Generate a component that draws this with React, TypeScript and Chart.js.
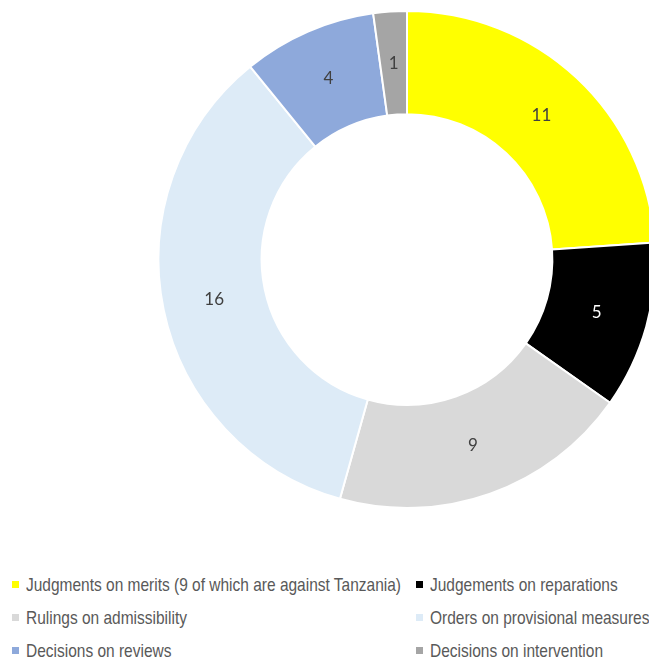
import React, { useEffect, useRef } from "react";
import { Chart, registerables } from "chart.js";

Chart.register(...registerables);

const categories = [
  "Judgments on merits (9 of which are against Tanzania)",
  "Judgements on reparations",
  "Rulings on admissibility",
  "Orders on provisional measures",
  "Decisions on reviews",
  "Decisions on intervention",
];
const values = [11, 5, 9, 16, 4, 1];
const colors = ["#FFFF00", "#000000", "#D9D9D9", "#DDEBF7", "#8EA9DB", "#A5A5A5"];
const labelColors = ["#404040", "#FFFFFF", "#404040", "#404040", "#404040", "#404040"];

const valueLabels = {
  id: "valueLabels",
  afterDatasetsDraw(chart: any) {
    const ctx = chart.ctx;
    const meta = chart.getDatasetMeta(0);
    ctx.save();
    ctx.font = "17px Lato, 'Open Sans', sans-serif";
    ctx.textAlign = "center";
    ctx.textBaseline = "middle";
    meta.data.forEach((arc: any, i: number) => {
      const p = arc.tooltipPosition();
      ctx.fillStyle = labelColors[i];
      ctx.fillText(String(values[i]), p.x, p.y);
    });
    ctx.restore();
  },
};

export default function App() {
  const ref = useRef<HTMLCanvasElement | null>(null);
  useEffect(() => {
    if (!ref.current) return;
    const chart = new Chart(ref.current, {
      type: "doughnut",
      data: {
        labels: categories,
        datasets: [
          {
            data: values,
            backgroundColor: colors,
            borderColor: "#FFFFFF",
            borderWidth: 2,
          },
        ],
      },
      options: {
        responsive: false,
        animation: false,
        radius: 248.5,
        cutout: "58.5%",
        layout: { padding: 0 },
        plugins: {
          legend: { display: false },
          tooltip: { enabled: false },
        },
      } as any,
      plugins: [valueLabels],
    });
    return () => chart.destroy();
  }, []);

  const legendFont = "'Liberation Sans', Arial, sans-serif";

  return (
    <div
      style={{
        position: "fixed",
        left: 0,
        top: 0,
        width: 649,
        height: 661,
        overflow: "hidden",
        background: "#FFFFFF",
      }}
    >
      <canvas
        ref={ref}
        width={814}
        height={519}
        style={{ position: "absolute", left: 0, top: 0, width: 814, height: 519 }}
      />
      {categories.map((c, i) => {
        const col = i % 2;
        const row = Math.floor(i / 2);
        const left = col === 0 ? 12 : 416;
        const center = 584.5 + row * 33;
        return (
          <div
            key={c}
            style={{
              position: "absolute",
              left,
              top: center - 12,
              height: 24,
              display: "flex",
              alignItems: "center",
              whiteSpace: "nowrap",
              fontFamily: legendFont,
              fontSize: 19,
              color: "#595959",
            }}
          >
            <span
              style={{
                display: "inline-block",
                width: 7,
                height: 7,
                background: colors[i],
                marginRight: 7,
                flex: "none",
              }}
            />
            <span
              style={{
                display: "inline-block",
                transform: "scaleX(0.815)",
                transformOrigin: "0 50%",
              }}
            >
              {c}
            </span>
          </div>
        );
      })}
    </div>
  );
}
